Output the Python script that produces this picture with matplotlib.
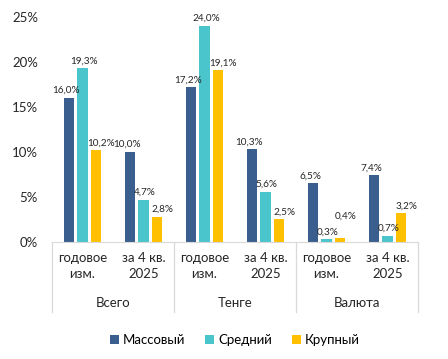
import numpy as np
import matplotlib
matplotlib.use("Agg")
import matplotlib.pyplot as plt
from matplotlib.ticker import FuncFormatter

plt.rcParams['font.family'] = ['Lato', 'DejaVu Sans']

groups = ['Всего', 'Тенге', 'Валюта']
subcats = ['годовое\nизм.', 'за 4 кв.\n2025']
series = ['Массовый', 'Средний', 'Крупный']
massovyi = [16.0, 10.0, 17.2, 10.3, 6.5, 7.4]
sredniy = [19.3, 4.7, 24.0, 5.6, 0.3, 0.7]
krupnyi = [10.2, 2.8, 19.1, 2.5, 0.4, 3.2]
colors = ['#3A5F8F', '#4BC5CC', '#FFC000']

fig = plt.figure(figsize=(4.48, 3.59), dpi=100)
ax = fig.add_axes([0.116, 0.326, 0.817, 0.627])

x = np.arange(len(massovyi))
w = 0.165
step = 0.22
data = [massovyi, sredniy, krupnyi]
label_dx = [-2, 1, 4]
for i, (vals, c, name) in enumerate(zip(data, colors, series)):
    pos = x + (i - 1) * step
    ax.bar(pos, vals, width=w, color=c, label=name)
    for j, (p, v) in enumerate(zip(pos, vals)):
        dy = 2
        # lift the label if it would collide with the neighbour's label
        if i == 2 and abs(v - data[1][j]) < 1.0:
            dy = 13
        ax.annotate(f'{v:.1f}%'.replace('.', ','), (p, v),
                    xytext=(label_dx[i], dy), textcoords='offset points',
                    ha='center', va='bottom', fontsize=7.2, color='#262626')

ax.set_xlim(-0.5, len(x) - 0.5)
ax.set_ylim(0, 25)
ax.set_yticks(range(0, 26, 5))
ax.yaxis.set_major_formatter(FuncFormatter(lambda v, _: f'{v:.0f}%'))
ax.tick_params(axis='y', length=0, labelsize=9.5, pad=10, colors='#262626')
ax.set_xticks([])
for s in ['left', 'right', 'top']:
    ax.spines[s].set_visible(False)
ax.spines['bottom'].set_color('#D9D9D9')

# two-level category axis
trans = ax.get_xaxis_transform()
for j in range(len(x)):
    ax.text(x[j], -0.045, subcats[j % 2], transform=trans, ha='center',
            va='top', fontsize=9.5, color='#262626', linespacing=1.35)
for g, name in enumerate(groups):
    ax.text(2 * g + 0.5, -0.245, name, transform=trans, ha='center',
            va='top', fontsize=9.5, color='#262626')
for b in [-0.5, 1.5, 3.5, 5.5]:
    ax.plot([b, b], [0, -0.31], transform=trans, color='#D9D9D9',
            lw=0.9, clip_on=False)

ax.legend(loc='upper center', bbox_to_anchor=(0.5, -0.355), ncol=3,
          frameon=False, fontsize=9.5, handlelength=0.7, handleheight=0.7,
          handletextpad=0.3, columnspacing=1.5)

fig.savefig('out.png', dpi=100)
